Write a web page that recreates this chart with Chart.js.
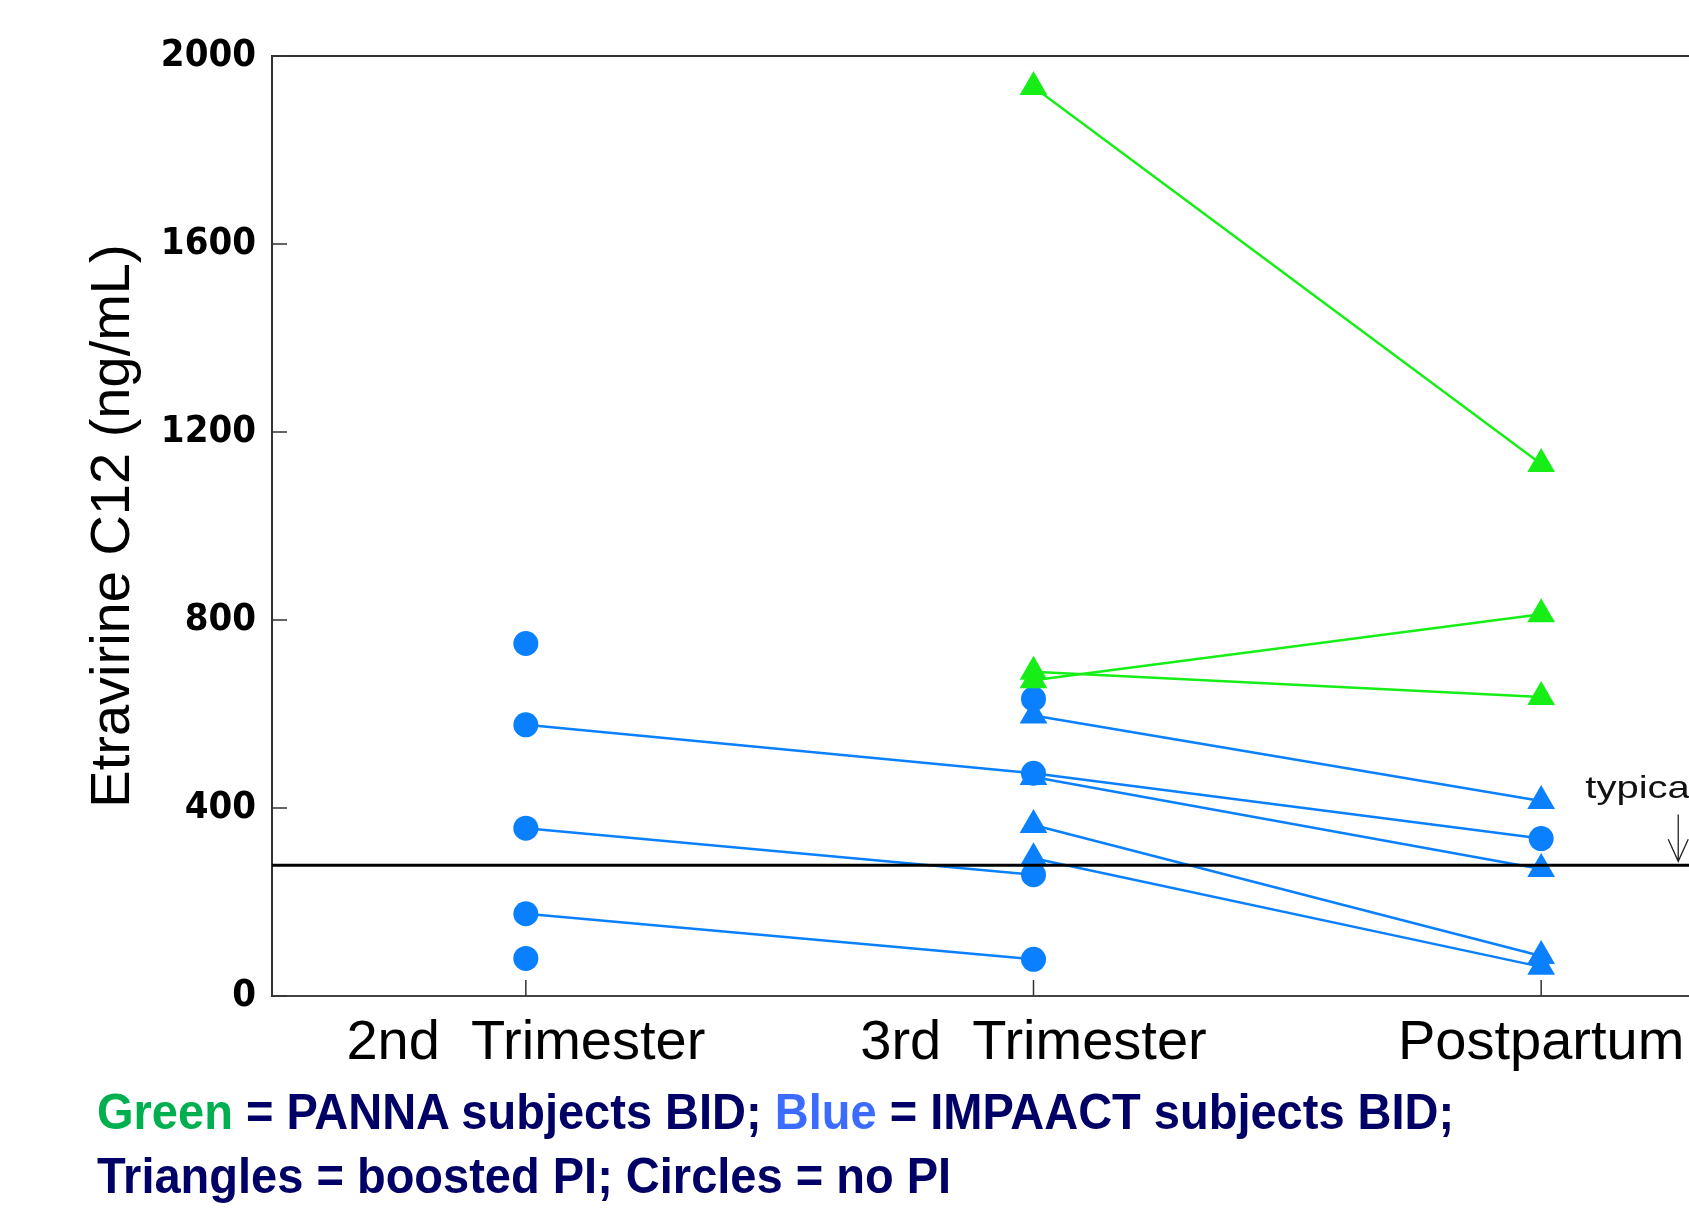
<!DOCTYPE html>
<html>
<head>
<meta charset="utf-8">
<script src="https://cdn.jsdelivr.net/npm/chart.js@4.4.1/dist/chart.umd.min.js"></script>
<style>
  html, body { margin: 0; padding: 0; background: #fff; }
  body { width: 1689px; height: 1211px; overflow: hidden; position: relative; }
  #wrap { position: absolute; left: 0; top: 0; width: 1811px; height: 1211px; }
  .note { position: absolute; left: 97px; font-family: "Liberation Sans", Arial, sans-serif; font-weight: bold;
          font-size: 50px; line-height: 50px; color: #000066; white-space: nowrap;
          transform: scaleX(0.94); transform-origin: 0 0; }
</style>
</head>
<body>
<div id="wrap"><canvas id="myChart" width="1811" height="1211"></canvas></div>
<div class="note" style="top:1087px"><span style="color:#00b050">Green</span> = PANNA subjects BID; <span style="color:#3b6bff">Blue</span> = IMPAACT subjects BID;</div>
<div class="note" style="top:1151px">Triangles = boosted PI; Circles = no PI</div>
<script>
const visits = ['2nd  Trimester', '3rd  Trimester', 'Postpartum'];
const yTicks = [0, 400, 800, 1200, 1600, 2000];
const typicalLevel = 278;

// PANNA subjects (green), all on boosted PI -> triangles
const pannaA = [null, 1934, 1132];
const pannaB = [null, 690, 636];
const pannaC = [null, 672, 812];

// IMPAACT subjects, no PI -> circles
const impaactC1 = [750, null, null];
const impaactC2 = [577, 474, 335];
const impaactC3 = [357, 258, null];
const impaactC4 = [175, 78, null];
const impaactC5 = [80, null, null];
const impaactC6 = [null, 632, null];

// IMPAACT subjects, boosted PI -> triangles
const impaactT1 = [null, 597, 415];
const impaactT2 = [null, 466, 270];
const impaactT3 = [null, 364, 85];
const impaactT4 = [null, 293, 62];

const GREEN = '#17ee17';
const BLUE = '#0a80ff';

function series(data, color, style) {
    return {
        data: data,
        borderColor: color,
        backgroundColor: color,
        borderWidth: 2.5,
        pointStyle: style,
        pointRadius: style === 'triangle' ? 16 : 12.5,
        pointHoverRadius: style === 'triangle' ? 16 : 12.5,
        pointBorderWidth: 0,
        pointBackgroundColor: color,
        spanGaps: false,
        tension: 0
    };
}

const frame = {
    id: 'frame',
    beforeDatasetsDraw(chart) {
        const { ctx, chartArea, scales: { x, y } } = chart;
        ctx.save();
        ctx.strokeStyle = '#333';
        ctx.lineWidth = 2;
        ctx.beginPath();
        ctx.moveTo(chartArea.left, chartArea.top);
        ctx.lineTo(chartArea.right, chartArea.top);
        ctx.stroke();
        ctx.lineWidth = 1.5;
        ctx.beginPath();
        yTicks.forEach(v => {          // inside ticks on the y axis
            const py = y.getPixelForValue(v);
            ctx.moveTo(chartArea.left, py);
            ctx.lineTo(chartArea.left + 15, py);
        });
        visits.forEach((_, i) => {     // inside ticks on the x axis
            const px = x.getPixelForValue(i);
            ctx.moveTo(px, chartArea.bottom);
            ctx.lineTo(px, chartArea.bottom - 16);
        });
        ctx.stroke();
        ctx.restore();
    },
    afterDatasetsDraw(chart) {
        const { ctx, chartArea, scales: { x, y } } = chart;
        const ly = y.getPixelForValue(typicalLevel);
        ctx.save();
        ctx.strokeStyle = '#000';
        ctx.lineWidth = 3;
        ctx.beginPath();
        ctx.moveTo(chartArea.left, ly);
        ctx.lineTo(chartArea.right, ly);
        ctx.stroke();

        // "typical" note with arrow down to the line
        ctx.save();
        ctx.translate(x.getPixelForValue(2.087), y.getPixelForValue(422));
        ctx.scale(1.25, 1);
        ctx.fillStyle = '#111';
        ctx.font = '32px "Liberation Sans", Arial, sans-serif';
        ctx.textBaseline = 'alphabetic';
        ctx.fillText('typical', 0, 0);
        ctx.restore();

        const ax = x.getPixelForValue(2.27);
        const top = y.getPixelForValue(386);
        const tip = ly - 4;
        ctx.strokeStyle = '#222';
        ctx.lineWidth = 1.3;
        ctx.beginPath();
        ctx.moveTo(ax, top);
        ctx.lineTo(ax, tip);
        ctx.moveTo(ax - 10, tip - 22);
        ctx.lineTo(ax, tip);
        ctx.lineTo(ax + 10, tip - 22);
        ctx.stroke();
        ctx.restore();
    }
};

const ctx = document.getElementById('myChart').getContext('2d');
new Chart(ctx, {
    type: 'line',
    data: {
        labels: visits,
        datasets: [
            series(pannaA, GREEN, 'triangle'),
            series(pannaB, GREEN, 'triangle'),
            series(pannaC, GREEN, 'triangle'),
            series(impaactC1, BLUE, 'circle'),
            series(impaactC2, BLUE, 'circle'),
            series(impaactC3, BLUE, 'circle'),
            series(impaactC4, BLUE, 'circle'),
            series(impaactC5, BLUE, 'circle'),
            series(impaactC6, BLUE, 'circle'),
            series(impaactT1, BLUE, 'triangle'),
            series(impaactT2, BLUE, 'triangle'),
            series(impaactT3, BLUE, 'triangle'),
            series(impaactT4, BLUE, 'triangle')
        ]
    },
    options: {
        responsive: false,
        animation: false,
        devicePixelRatio: 1,
        events: [],
        layout: { padding: { left: 80, top: 56, right: 6, bottom: 0 } },
        plugins: { legend: { display: false }, tooltip: { enabled: false } },
        scales: {
            x: {
                type: 'category',
                offset: true,
                grid: { display: false, drawTicks: false },
                border: { display: true, color: '#444', width: 2 },
                ticks: {
                    color: '#000',
                    font: { family: '"Liberation Sans", Arial, sans-serif', size: 56 },
                    padding: 14,
                    maxRotation: 0,
                    autoSkip: false
                },
                afterFit(s) { s.height = 215; }
            },
            y: {
                min: 0,
                max: 2000,
                afterBuildTicks(s) { s.ticks = yTicks.map(v => ({ value: v })); },
                grid: { display: false, drawTicks: false },
                border: { display: true, color: '#333', width: 2 },
                ticks: {
                    color: '#000',
                    font: { family: '"DejaVu Sans Condensed", "DejaVu Sans", sans-serif', weight: 'bold', size: 38 },
                    padding: 16,
                    callback: v => String(v)
                },
                title: {
                    display: true,
                    text: 'Etravirine C12 (ng/mL)',
                    color: '#000',
                    font: { family: '"Liberation Sans", Arial, sans-serif', size: 56 },
                    padding: 0
                },
                afterFit(s) { s.width = 192; }
            }
        }
    },
    plugins: [frame]
});
</script>
</body>
</html>
